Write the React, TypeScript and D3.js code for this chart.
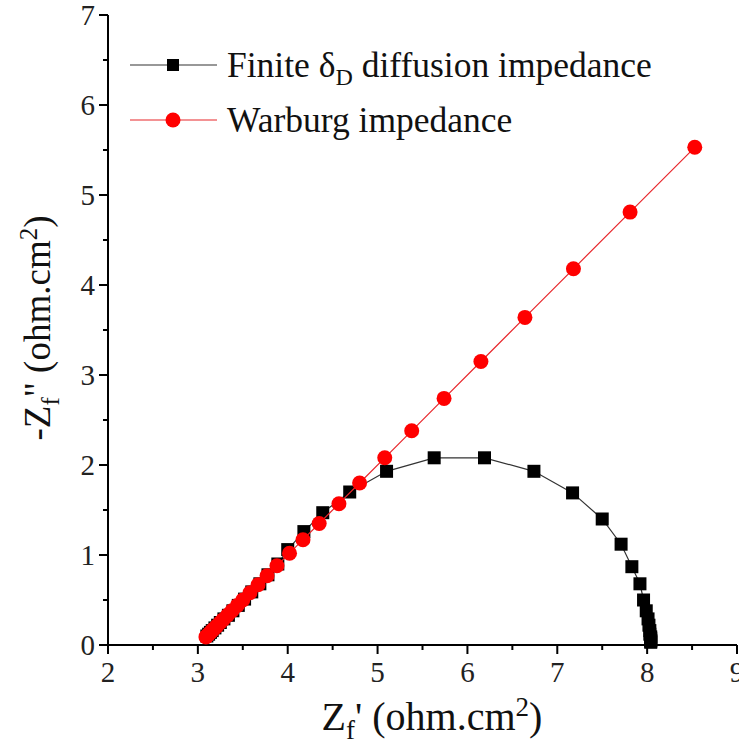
import React from 'react';
import * as d3 from 'd3';

const xTicks = [2, 3, 4, 5, 6, 7, 8, 9];
const yTicks = [0, 1, 2, 3, 4, 5, 6, 7];
const xDomain = [2, 9];
const yDomain = [0, 7];

const warburgX = [8.53, 7.81, 7.18, 6.64, 6.15, 5.74, 5.38, 5.08, 4.8, 4.57, 4.35, 4.17, 4.02, 3.88, 3.77, 3.67, 3.58, 3.5, 3.44, 3.38, 3.33, 3.28, 3.25, 3.21, 3.18, 3.16, 3.14, 3.12, 3.1, 3.09];
const warburgY = [5.53, 4.81, 4.18, 3.64, 3.15, 2.74, 2.38, 2.08, 1.8, 1.57, 1.35, 1.17, 1.02, 0.88, 0.77, 0.67, 0.58, 0.5, 0.44, 0.38, 0.33, 0.28, 0.25, 0.21, 0.18, 0.16, 0.14, 0.12, 0.1, 0.09];

const finiteX = [8.04, 8.04, 8.04, 8.04, 8.04, 8.03, 8.03, 8.02, 8.01, 7.99, 7.96, 7.92, 7.83, 7.71, 7.5, 7.17, 6.74, 6.19, 5.63, 5.1, 4.69, 4.39, 4.18, 4.0, 3.89, 3.78, 3.69, 3.6, 3.52, 3.45, 3.39, 3.34, 3.29, 3.25, 3.22, 3.19, 3.16, 3.14, 3.12, 3.1];
const finiteY = [0.03, 0.04, 0.05, 0.07, 0.09, 0.12, 0.16, 0.22, 0.29, 0.38, 0.5, 0.68, 0.87, 1.12, 1.4, 1.69, 1.93, 2.08, 2.08, 1.93, 1.7, 1.47, 1.26, 1.06, 0.9, 0.78, 0.68, 0.59, 0.51, 0.44, 0.38, 0.33, 0.29, 0.25, 0.22, 0.19, 0.16, 0.14, 0.12, 0.1];

const FAM = '"Liberation Serif", monospace';
const ts = { fontFamily: FAM };

export default function App() {
  const x = d3.scaleLinear().domain(xDomain).range([108, 737]);
  const y = d3.scaleLinear().domain(yDomain).range([645, 15]);
  const xMinor = x.ticks(14).filter((t) => !xTicks.includes(t));
  const yMinor = y.ticks(14).filter((t) => !yTicks.includes(t));

  const line = d3.line<[number, number]>().x((d) => x(d[0])).y((d) => y(d[1]));
  const wData: [number, number][] = warburgX.map((v, i) => [v, warburgY[i]]);
  const fData: [number, number][] = finiteX.map((v, i) => [v, finiteY[i]]);

  const sq = 13;
  const r = 7.5;

  return (
    <div style={{ position: 'absolute', left: 0, top: 0, width: 739, height: 753 }}>
      <svg width={739} height={753} fontFamily={FAM}>
        <style>{`text, tspan { font-family: "Liberation Serif", monospace !important; }`}</style>
        <rect x={0} y={0} width={739} height={753} fill="#fff" />
        {/* axes */}
        <line x1={x(2)} x2={x(9)} y1={y(0)} y2={y(0)} stroke="#000" strokeWidth={2} />
        <line x1={x(2)} x2={x(2)} y1={y(0)} y2={y(7)} stroke="#000" strokeWidth={2} />
        {xTicks.map((t) => (
          <g key={'xt' + t}>
            <line x1={x(t)} x2={x(t)} y1={y(0)} y2={y(0) + 9} stroke="#000" strokeWidth={2} />
            <text x={x(t)} y={y(0) + 37} textAnchor="middle" fontSize={29} fill="#222" style={ts}>{t}</text>
          </g>
        ))}
        {xMinor.map((t) => (
          <line key={'xm' + t} x1={x(t)} x2={x(t)} y1={y(0)} y2={y(0) + 5} stroke="#000" strokeWidth={2} />
        ))}
        {yTicks.map((t) => (
          <g key={'yt' + t}>
            <line x1={x(2) - 9} x2={x(2)} y1={y(t)} y2={y(t)} stroke="#000" strokeWidth={2} />
            <text x={x(2) - 13} y={y(t) + 10} textAnchor="end" fontSize={29} fill="#222" style={ts}>{t}</text>
          </g>
        ))}
        {yMinor.map((t) => (
          <line key={'ym' + t} x1={x(2) - 5} x2={x(2)} y1={y(t)} y2={y(t)} stroke="#000" strokeWidth={2} />
        ))}

        {/* axis titles */}
        <text x={432} y={730} textAnchor="middle" fontSize={40} fill="#111" style={ts}>
          Z<tspan fontSize={27} dy={9}>f</tspan><tspan dy={-9}>' (ohm.cm</tspan><tspan fontSize={27} dy={-14}>2</tspan><tspan dy={14}>)</tspan>
        </text>
        <text transform="translate(50,328) rotate(-90)" textAnchor="middle" fontSize={37} fill="#111" style={ts}>
          -Z<tspan fontSize={25} dy={9}>f</tspan><tspan dy={-9}>" (ohm.cm</tspan><tspan fontSize={25} dy={-13}>2</tspan><tspan dy={13}>)</tspan>
        </text>

        {/* series */}
        <path d={line(fData) || ''} fill="none" stroke="#333" strokeWidth={1.2} />
        {fData.map((d, i) => (
          <rect key={'f' + i} x={x(d[0]) - sq / 2} y={y(d[1]) - sq / 2} width={sq} height={sq} fill="#000" />
        ))}
        <path d={line(wData) || ''} fill="none" stroke="#e8262b" strokeWidth={1.2} />
        {wData.map((d, i) => (
          <circle key={'w' + i} cx={x(d[0])} cy={y(d[1])} r={r} fill="#ff0000" />
        ))}

        {/* legend */}
        <line x1={130} x2={217} y1={65} y2={65} stroke="#333" strokeWidth={1.2} />
        <rect x={173 - 6} y={65 - 6} width={12} height={12} fill="#000" />
        <text x={227} y={77} fontSize={35.5} fill="#111" style={ts}>
          Finite δ<tspan fontSize={24} dy={8}>D</tspan><tspan dy={-8}> diffusion impedance</tspan>
        </text>
        <line x1={130} x2={217} y1={120} y2={120} stroke="#e8262b" strokeWidth={1.2} />
        <circle cx={173} cy={120} r={7.5} fill="#ff0000" />
        <text x={227} y={132} fontSize={35.5} fill="#111" style={ts}>Warburg impedance</text>
      </svg>
    </div>
  );
}
